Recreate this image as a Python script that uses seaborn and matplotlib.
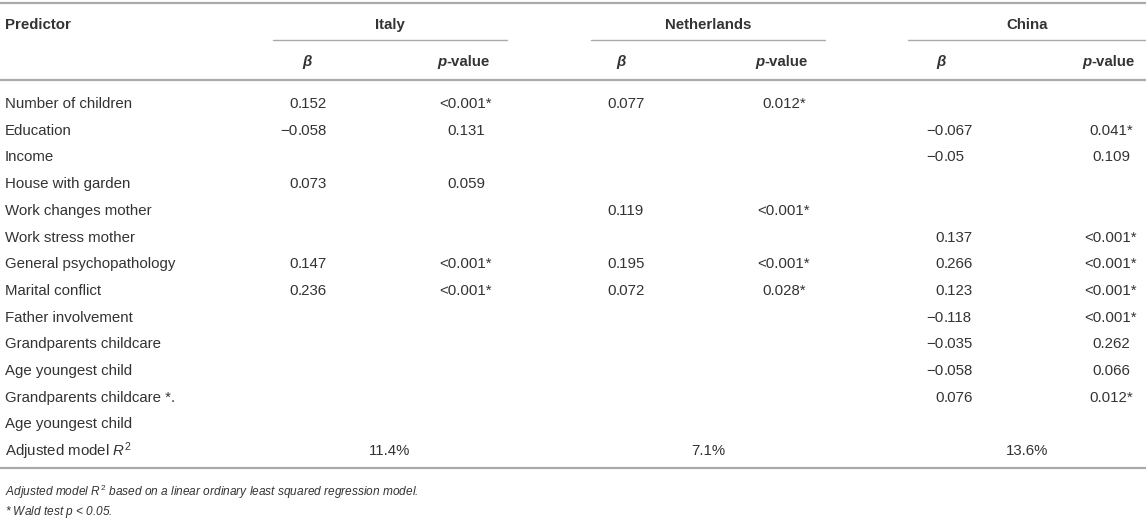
import numpy as np
import pandas as pd
import matplotlib.pyplot as plt
import seaborn as sns

# TABLE DATA
predictors = ["Number of children", "Education", "Income", "House with garden",
              "Work changes mother", "Work stress mother", "General psychopathology",
              "Marital conflict", "Father involvement", "Grandparents childcare",
              "Age youngest child", "Grandparents childcare *.", "Age youngest child"]
countries = ["Italy", "Netherlands", "China"]
italy_beta = ["0.152", "\u22120.058", "", "0.073", "", "", "0.147", "0.236", "", "", "", "", ""]
italy_p = ["<0.001*", "0.131", "", "0.059", "", "", "<0.001*", "<0.001*", "", "", "", "", ""]
nl_beta = ["0.077", "", "", "", "0.119", "", "0.195", "0.072", "", "", "", "", ""]
nl_p = ["0.012*", "", "", "", "<0.001*", "", "<0.001*", "0.028*", "", "", "", "", ""]
cn_beta = ["", "\u22120.067", "\u22120.05", "", "", "0.137", "0.266", "0.123",
           "\u22120.118", "\u22120.035", "\u22120.058", "0.076", ""]
cn_p = ["", "0.041*", "0.109", "", "", "<0.001*", "<0.001*", "<0.001*",
        "<0.001*", "0.262", "0.066", "0.012*", ""]
r2_values = ["11.4%", "7.1%", "13.6%"]
footnotes = ["Adjusted model $R^2$ based on a linear ordinary least squared regression model.",
             "* Wald test $p$ < 0.05."]

betas = [italy_beta, nl_beta, cn_beta]
pvals = [italy_p, nl_p, cn_p]

sns.set_theme(style="white")
plt.rcParams['font.family'] = ['Liberation Sans', 'DejaVu Sans']
plt.rcParams['mathtext.fontset'] = 'custom'
plt.rcParams['mathtext.rm'] = 'Liberation Sans'
plt.rcParams['mathtext.it'] = 'Liberation Sans:italic'

TXT = "#333333"
LINE = "#aaaaaa"
FS = 10.8
FS_NOTE = 8.6

# layout (pixel coordinates)
spans = [(273, 507), (591, 825), (908, 1146)]
beta_dec = [298, 616, 944]
beta_head = [307, 621, 941]
p_center = [466, 784, 1111]
row_y0, row_dy = 104, 26.7

fig = plt.figure(figsize=(11.46, 5.2), dpi=100)
ax = fig.add_axes([0, 0, 1, 1])
ax.set_xlim(0, 1146)
ax.set_ylim(520, 0)
ax.axis("off")

# rules
ax.plot([0, 1146], [3, 3], color=LINE, lw=1.6)
ax.plot([0, 1146], [80, 80], color=LINE, lw=1.6)
ax.plot([0, 1146], [468, 468], color=LINE, lw=1.6)

# header
ax.text(5, 25, "Predictor", ha="left", va="center", fontsize=FS, fontweight="bold", color=TXT)
for i, c in enumerate(countries):
    x0, x1 = spans[i]
    ax.text((x0 + x1) / 2, 25, c, ha="center", va="center", fontsize=FS,
            fontweight="bold", color=TXT)
    ax.plot([x0, x1], [40, 40], color=LINE, lw=1.0)
    ax.text(beta_head[i], 62, "\u03b2", ha="center", va="center", fontsize=FS,
            fontweight="bold", fontstyle="italic", color=TXT)
    ax.text(p_center[i] - 20, 62, "p", ha="right", va="center", fontsize=FS,
            fontweight="bold", fontstyle="italic", color=TXT)
    ax.text(p_center[i] - 20, 62, "-value", ha="left", va="center", fontsize=FS,
            fontweight="bold", color=TXT)

# body rows
for r, name in enumerate(predictors):
    y = row_y0 + r * row_dy
    ax.text(5, y, name, ha="left", va="center", fontsize=FS, color=TXT)
    for i in range(3):
        b = betas[i][r]
        if b:
            left, right = b.split(".")
            ax.text(beta_dec[i], y, left, ha="right", va="center", fontsize=FS, color=TXT)
            ax.text(beta_dec[i], y, "." + right, ha="left", va="center", fontsize=FS, color=TXT)
        p = pvals[i][r]
        if p:
            ax.text(p_center[i], y, p, ha="center", va="center", fontsize=FS, color=TXT)

# R2 row
y = row_y0 + len(predictors) * row_dy
ax.text(5, y, "Adjusted model $R^2$", ha="left", va="center", fontsize=FS, color=TXT)
for i, v in enumerate(r2_values):
    x0, x1 = spans[i]
    ax.text((x0 + x1) / 2, y, v, ha="center", va="center", fontsize=FS, color=TXT)

# footnotes
ax.text(5, 492, footnotes[0], ha="left", va="center", fontsize=FS_NOTE,
        fontstyle="italic", color=TXT)
ax.text(5, 512, footnotes[1], ha="left", va="center", fontsize=FS_NOTE,
        fontstyle="italic", color=TXT)

fig.savefig("out.png", dpi=100)
